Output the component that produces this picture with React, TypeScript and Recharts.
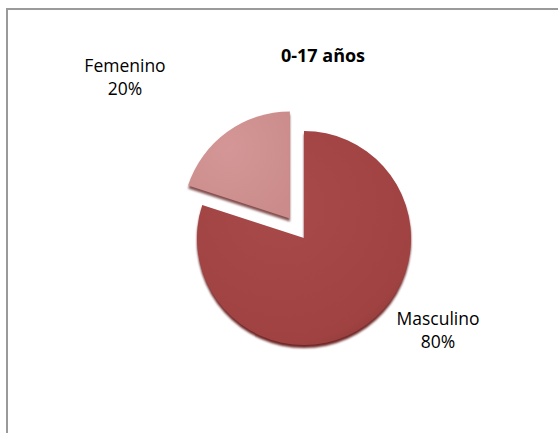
import { PieChart, Pie, Cell, Sector } from "recharts";

const categories = ["Masculino", "Femenino"];
const values = [80, 20];
const percentLabels = ["80%", "20%"];
const title = "0-17 años";

const edgeColors = ["#6E2727", "#845050"];

// label anchor points (chart pixels) for each category
const labelSpots = [
  { x: 438, y: 325 },
  { x: 125, y: 72 },
];

const data = categories.map((name, i) => ({ name, value: values[i] }));

const font = "'Open Sans', sans-serif";

const ExplodedSector = (props: any) => {
  const { cx, cy, midAngle, index } = props;
  const shift = index === 1 ? 24 : 0;
  const rad = (Math.PI / 180) * midAngle;
  const dx = shift * Math.cos(rad);
  const dy = -shift * Math.sin(rad);
  return (
    <g style={{ filter: `drop-shadow(0px 3px 1px ${edgeColors[index]})` }}>
      <Sector {...props} cx={cx + dx} cy={cy + dy} />
    </g>
  );
};

const renderLabel = (props: any) => {
  const { index } = props;
  const spot = labelSpots[index];
  return (
    <text
      x={spot.x}
      y={spot.y}
      textAnchor="middle"
      fill="#000"
      style={{ fontFamily: font, fontSize: 17.5 }}
    >
      <tspan x={spot.x} dy={0}>
        {categories[index]}
      </tspan>
      <tspan x={spot.x} dy={23}>
        {percentLabels[index]}
      </tspan>
    </text>
  );
};

export default function App() {
  return (
    <div
      style={{
        position: "absolute",
        left: 0,
        top: 0,
        width: 558,
        height: 433,
        overflow: "hidden",
        background: "#fff",
      }}
    >
      <div
        style={{
          position: "absolute",
          left: 6,
          top: 8,
          width: 700,
          height: 600,
          border: "2px solid #9a9a9a",
        }}
      />
      <PieChart width={558} height={433} style={{ position: "absolute", left: 0, top: 0 }}>
        <defs>
          <radialGradient id="gradM" cx="40%" cy="35%" r="75%">
            <stop offset="0%" stopColor="#A94A4A" />
            <stop offset="85%" stopColor="#A04242" />
            <stop offset="100%" stopColor="#8E3737" />
          </radialGradient>
          <radialGradient id="gradF" cx="40%" cy="35%" r="75%">
            <stop offset="0%" stopColor="#D49696" />
            <stop offset="100%" stopColor="#CB8B8B" />
          </radialGradient>
        </defs>
        <text
          x={323}
          y={62}
          textAnchor="middle"
          fill="#000"
          style={{ fontFamily: font, fontSize: 18, fontWeight: 700 }}
        >
          {title}
        </text>
        <Pie
          data={data}
          dataKey="value"
          nameKey="name"
          cx={299}
          cy={233}
          outerRadius={107}
          startAngle={90}
          endAngle={-270}
          stroke="none"
          shape={ExplodedSector}
          label={renderLabel}
          labelLine={false}
          isAnimationActive={false}
        >
          {data.map((d, i) => (
            <Cell key={d.name} fill={i === 0 ? "url(#gradM)" : "url(#gradF)"} />
          ))}
        </Pie>
      </PieChart>
    </div>
  );
}
